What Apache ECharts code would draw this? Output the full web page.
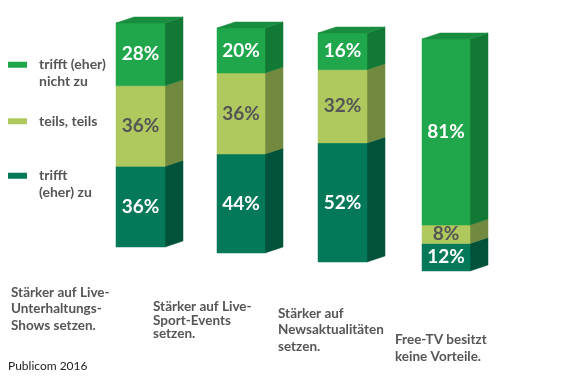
<!DOCTYPE html>
<html>
<head>
<meta charset="utf-8">
<script src="https://cdn.jsdelivr.net/npm/echarts@6/dist/echarts.min.js"></script>
<style>
html, body {margin:0; padding:0; background:#fff;}
#chart {width:567px; height:378px;}
</style>
</head>
<body>
<div id="chart"></div>
<script>
// Daten
const categories = [
    'Stärker auf Live-\nUnterhaltungs-\nShows setzen.',
    'Stärker auf Live-\nSport-Events\nsetzen.',
    'Stärker auf\nNewsaktualitäten\nsetzen.',
    'Free-TV besitzt\nkeine Vorteile.'
];
const zu = [36, 44, 52, 12];
const teils = [36, 36, 32, 8];
const nichtZu = [28, 20, 16, 81];
const segmentNames = ['trifft (eher) zu', 'teils, teils', 'trifft (eher) nicht zu'];
const legendLabels = ['trifft\n(eher) zu', 'teils, teils', 'trifft (eher)\nnicht zu'];
const sourceText = 'Publicom 2016';

// Frontflaechen, leicht perspektivisch versetzt
const boxes = [
    {left:116, top:23, width:49, bottom:247},
    {left:217, top:28, width:48, bottom:253},
    {left:318, top:33, width:49, bottom:262},
    {left:422, top:39, width:48, bottom:271}
];
const DEPTH = [18, -6];
const faces = [
    {front:'#04795a', side:'#00533a', label:'#ffffff'},
    {front:'#b0c95f', side:'#718a3f', label:'#555555'},
    {front:'#20a64b', side:'#127935', top:'#188d40', label:'#ffffff'}
];
const FONT = 'Lato, "Noto Sans", sans-serif';

function makeRenderer(face, isTop) {
    return function (params, api) {
        let base = api.coord([api.value(0), api.value(1)]);
        let head = api.coord([api.value(0), api.value(2)]);
        let w = api.size([1, 0])[0];
        let x0 = base[0] - w / 2, x1 = base[0] + w / 2;
        let y0 = base[1], y1 = head[1];
        let dx = DEPTH[0], dy = DEPTH[1];
        let children = [
            {type:'polygon', shape:{points:[[x1, y0], [x1 + dx, y0 + dy], [x1 + dx, y1 + dy], [x1, y1]]},
             style:{fill:face.side, stroke:face.side, lineWidth:0.5}},
            {type:'rect', shape:{x:x0, y:y1, width:w, height:y0 - y1},
             style:{fill:face.front, stroke:face.front, lineWidth:0.5}}
        ];
        if (isTop) {
            children.push({type:'polygon', shape:{points:[[x0, y1], [x0 + dx, y1 + dy], [x1 + dx, y1 + dy], [x1, y1]]},
                style:{fill:face.top, stroke:face.top, lineWidth:0.5}});
        }
        children.push({type:'text', x:(x0 + x1) / 2, y:(y0 + y1) / 2,
            style:{text:api.value(3) + '%', fill:face.label, font:'bold 19px ' + FONT,
                   align:'center', verticalAlign:'middle'}});
        return {type:'group', children:children};
    };
}

let grids = [], xAxes = [], yAxes = [], series = [];
let stacks = [zu, teils, nichtZu];
boxes.forEach((b, i) => {
    let total = zu[i] + teils[i] + nichtZu[i];
    grids.push({left:b.left, top:b.top, width:b.width, height:b.bottom - b.top});
    xAxes.push({type:'category', gridIndex:i, data:[categories[i]], show:false, boundaryGap:true});
    yAxes.push({type:'value', gridIndex:i, min:0, max:total, show:false});
    let start = 0;
    stacks.forEach((vals, s) => {
        series.push({
            type:'custom',
            name:segmentNames[s],
            xAxisIndex:i, yAxisIndex:i,
            silent:true,
            itemStyle:{color:faces[s].front},
            encode:{x:0, y:[1, 2]},
            renderItem:makeRenderer(faces[s], s === stacks.length - 1),
            data:[[0, start, start + vals[i], vals[i]]]
        });
        start += vals[i];
    });
});

// Legende: von oben nach unten; bei zwei Zeilen steht das Kaestchen an der ersten
const legendTops = [40, 113, 151];
const legendOrder = [2, 1, 0];
let legends = legendOrder.map((s, k) => {
    let twoLines = legendLabels[s].indexOf('\n') >= 0;
    return {
        data:[segmentNames[s]], left:8, top:legendTops[k], padding:0,
        orient:'vertical', icon:'rect', itemWidth:19, itemHeight:6,
        selectedMode:false,
        formatter:() => (twoLines ? ' \n' : '') + legendLabels[s],
        textStyle:{color:'#555', fontSize:14, fontWeight:'bold', fontFamily:FONT,
                   lineHeight:16.5, padding:[0, 0, 0, 7]}
    };
});

// Kategorietexte unter den Saeulen
const labelPos = [
    {left:11, top:284, lh:16.5},
    {left:153, top:300, lh:13.5},
    {left:278, top:305, lh:16.5},
    {left:395, top:331, lh:17}
];
let graphics = categories.map((c, i) => ({
    type:'text', left:labelPos[i].left, top:labelPos[i].top,
    style:{text:c, fill:'#555', font:'bold 13.5px ' + FONT, lineHeight:labelPos[i].lh}
}));
graphics.push({type:'text', left:8, top:360,
    style:{text:sourceText, fill:'#222', font:'12px ' + FONT}});

let chart = echarts.init(document.getElementById('chart'));
chart.setOption({
    backgroundColor:'#fff',
    animation:false,
    grid:grids,
    xAxis:xAxes,
    yAxis:yAxes,
    legend:legends,
    graphic:graphics,
    series:series
});
</script>
</body>
</html>
